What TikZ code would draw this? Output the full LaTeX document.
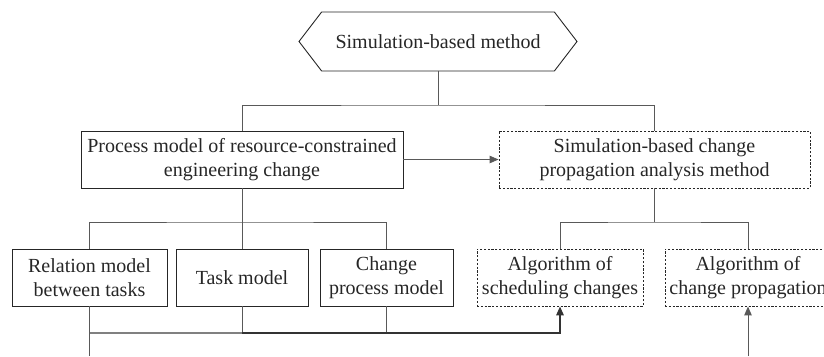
\documentclass[tikz,border=0pt]{standalone}
\usepackage{fontspec}
\setmainfont{Liberation Serif}
\usetikzlibrary{arrows.meta,shapes.symbols}

\begin{document}
\begin{tikzpicture}[x=1pt,y=-1pt]

\tikzset{BoxStyle/.style = {draw=black!85, line width=0.9pt, align=center, inner sep=0pt,
  minimum height=57pt, text=black!85, font=\fontsize{20}{24}\selectfont}}
\tikzset{DashStyle/.style = {BoxStyle, dash pattern=on 2.2pt off 1.6pt}}
\tikzset{LinkStyle/.style = {draw=black!65, line width=1pt}}
\tikzset{ArrowStyle/.style = {LinkStyle, -{Triangle[length=9pt,width=7.5pt]}}}

\useasboundingbox (0,0) rectangle (824,356);

\node[BoxStyle, shape=signal, signal to=west and east, signal pointer angle=105,
  minimum width=278pt, minimum height=59pt] (top) at (438,41.5) {Simulation-based method};

\node[BoxStyle, minimum width=322pt] (pm) at (242,159.5)
  {Process model of resource-constrained\\engineering change};
\node[DashStyle, minimum width=311pt] (sa) at (654.5,159.5)
  {Simulation-based change\\propagation analysis method};

\node[BoxStyle, minimum width=155pt] (rel) at (89.5,277.5) {Relation model\\between tasks};
\node[BoxStyle, minimum width=132pt] (task) at (242,277.5) {Task model};
\node[BoxStyle, minimum width=133pt] (chg) at (386.5,277.5) {Change\\process model};
\node[DashStyle, minimum width=166pt] (alg1) at (560,277.5) {Algorithm of\\scheduling changes};
\node[DashStyle, minimum width=166pt] (alg2) at (748,277.5) {Algorithm of\\change propagation};

\coordinate (b1) at (438,105);
\coordinate (b2) at (242,222);
\coordinate (b3) at (654.5,222);
\coordinate (b4) at (242,333);
\coordinate (e1) at (89.5,356);
\coordinate (e2) at (748,356);

\draw[LinkStyle] (top.south) -- (b1);
\draw[LinkStyle] (pm.north) |- (b1) -| (sa.north);
\draw[ArrowStyle] (pm) -- (sa);

\draw[LinkStyle] (pm.south) -- (task.north);
\draw[LinkStyle] (rel.north) |- (b2) -| (chg.north);
\draw[LinkStyle] (sa.south) -- (b3);
\draw[LinkStyle] (alg1.north) |- (b3) -| (alg2.north);

\draw[LinkStyle] (rel.south) -- (e1);
\draw[LinkStyle] (task.south) -- (b4);
\draw[LinkStyle] (chg.south) -- (chg.south |- b4);
\draw[LinkStyle, draw=black!50, line width=1.6pt] (rel.south |- b4) -- (b4);
\draw[ArrowStyle, draw=black!80, line width=1.6pt] (b4) -| (alg1.south);
\draw[ArrowStyle] (e2) -- (alg2.south);

\end{tikzpicture}
\end{document}
